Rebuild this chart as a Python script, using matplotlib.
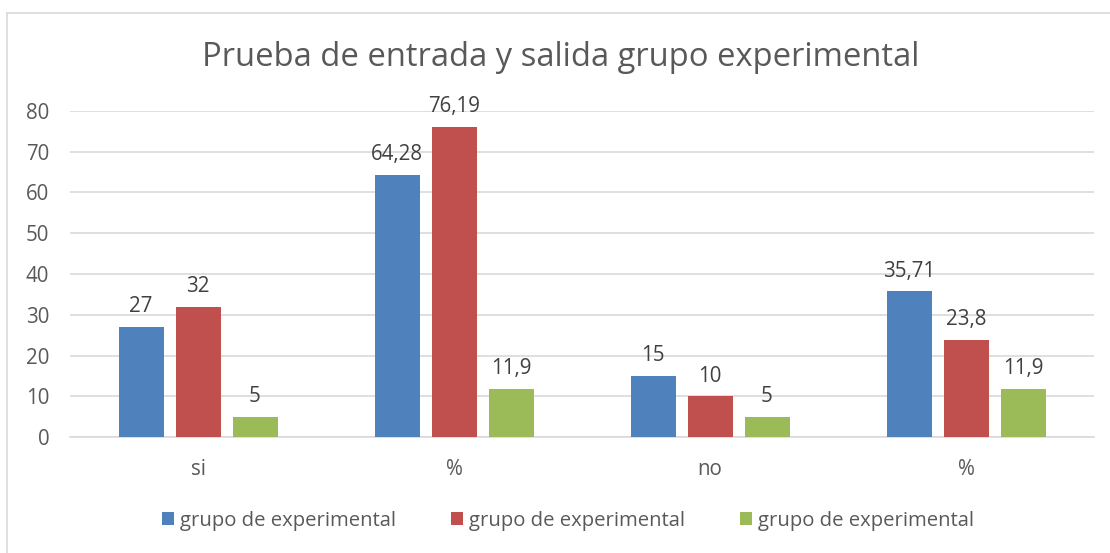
import matplotlib
matplotlib.use("Agg")
import matplotlib.pyplot as plt
import numpy as np
from matplotlib.lines import Line2D
from matplotlib.patches import Patch

plt.rcParams['font.family'] = ['Open Sans', 'DejaVu Sans']

categories = ['si', '%', 'no', '%']
series_names = ['grupo de experimental', 'grupo de experimental', 'grupo de experimental']
serie_1 = [27, 64.28, 15, 35.71]
serie_2 = [32, 76.19, 10, 23.8]
serie_3 = [5, 11.9, 5, 11.9]
colors = ['#4F81BD', '#C0504D', '#9BBB59']
title = 'Prueba de entrada y salida grupo experimental'

W, H = 1110, 553
fig = plt.figure(figsize=(W / 100, H / 100), dpi=100)
ax = fig.add_axes([70 / W, (H - 437) / H, 1024 / W, 326 / H])

x = np.arange(len(categories))
width = 45 / 256
step = 57 / 256

def fmt(v):
    s = ('%g' % v).replace('.', ',')
    return s

for i, (vals, col) in enumerate(zip([serie_1, serie_2, serie_3], colors)):
    bars = ax.bar(x + (i - 1) * step, vals, width, color=col, zorder=3)
    for b, v in zip(bars, vals):
        ax.annotate(fmt(v), (b.get_x() + b.get_width() / 2, b.get_height()),
                    xytext=(0, 7), textcoords='offset points',
                    ha='center', va='bottom', fontsize=14.8, color='#404040')

ax.set_xlim(-0.5, len(categories) - 0.5)
ax.set_ylim(0, 80)
ax.set_yticks(range(0, 81, 10))
ax.yaxis.grid(True, color='#D9D9D9', lw=1.2, zorder=0)
ax.set_xticks(x)
ax.set_xticklabels(categories)
ax.tick_params(axis='both', length=0, labelsize=14.8, colors='#595959')
ax.tick_params(axis='x', pad=16)
ax.tick_params(axis='y', pad=15)
for s in ['top', 'right', 'left']:
    ax.spines[s].set_visible(False)
ax.spines['bottom'].set_color('#D9D9D9')
ax.spines['bottom'].set_linewidth(1.2)

fig.text(0.505, (H - 57) / H, title, ha='center', va='center',
         fontsize=23.6, color='#595959')

handles = [Patch(facecolor=c) for c in colors]
fig.legend(handles, series_names, loc='center', bbox_to_anchor=(0.512, (H - 521) / H),
           ncol=3, frameon=False, fontsize=14.6, labelcolor='#595959',
           handlelength=0.6, handleheight=0.6, handletextpad=0.3, columnspacing=2.7)

# chart border (only left and top edges visible)
fig.add_artist(Line2D([6.5 / W, 6.5 / W], [0, (H - 12.5) / H], color='#D9D9D9', lw=1.2))
fig.add_artist(Line2D([6.5 / W, 1], [(H - 12.5) / H, (H - 12.5) / H], color='#D9D9D9', lw=1.2))

fig.savefig('out.png', dpi=100)
